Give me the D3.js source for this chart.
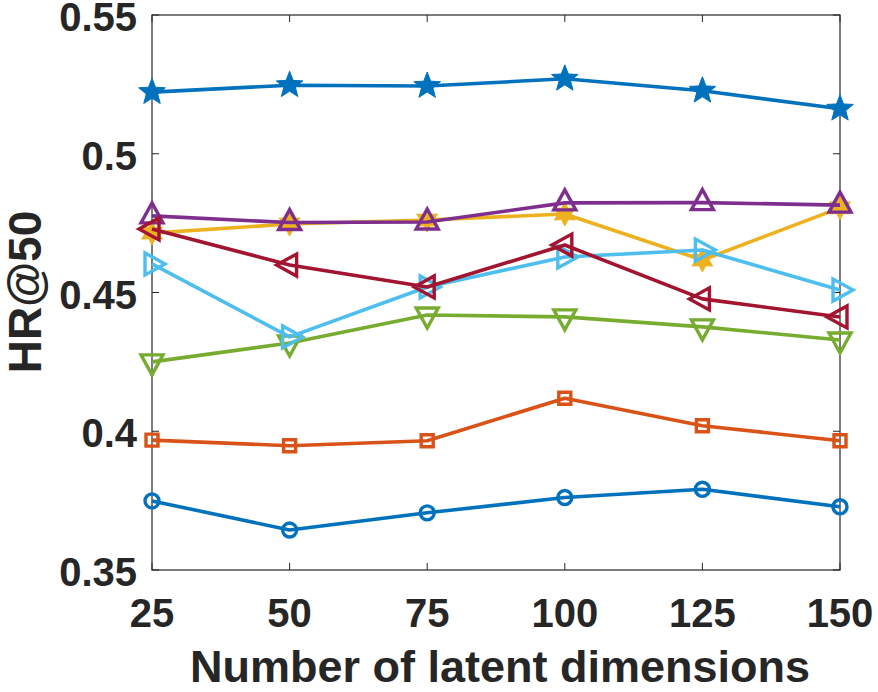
<!DOCTYPE html>
<html>
<head>
<meta charset="utf-8">
<script src="https://cdn.jsdelivr.net/npm/d3@7"></script>
<style>
  body { margin: 0; background: #fff; }
  text { font-family: Arial, "Liberation Sans", Helvetica, sans-serif; font-weight: bold; fill: #262626; }
</style>
</head>
<body>
<script>
'use strict';

const W = 878;
const H = 692;

// latent dimensions
const dims = [25, 50, 75, 100, 125, 150];
const yTicks = [0.35, 0.4, 0.45, 0.5, 0.55];
const yTickLabels = ['0.35', '0.4', '0.45', '0.5', '0.55'];

// HR@50 per method (drawing order = MATLAB plot order)
const sCircle   = [0.3749, 0.3644, 0.3706, 0.3761, 0.3791, 0.3728];
const sSquare   = [0.3968, 0.3948, 0.3966, 0.4119, 0.4020, 0.3966];
const sHexagram = [0.4714, 0.4747, 0.4761, 0.4783, 0.4617, 0.4805];
const sTriUp    = [0.4776, 0.4752, 0.4754, 0.4823, 0.4824, 0.4815];
const sTriDown  = [0.4250, 0.4318, 0.4419, 0.4412, 0.4376, 0.4329];
const sTriRight = [0.4603, 0.4340, 0.4520, 0.4628, 0.4653, 0.4509];
const sTriLeft  = [0.4729, 0.4599, 0.4520, 0.4671, 0.4477, 0.4412];
const sStar     = [0.5222, 0.5247, 0.5244, 0.5270, 0.5227, 0.5162];

const series = [
  { vals: sCircle,   color: '#0072BD', marker: 'circle' },
  { vals: sSquare,   color: '#D95319', marker: 'square' },
  { vals: sHexagram, color: '#EDB120', marker: 'hexagram' },
  { vals: sTriUp,    color: '#7E2F8E', marker: 'up' },
  { vals: sTriDown,  color: '#77AC30', marker: 'down' },
  { vals: sTriRight, color: '#4DBEEE', marker: 'right' },
  { vals: sTriLeft,  color: '#A2142F', marker: 'left' },
  { vals: sStar,     color: '#0072BD', marker: 'star' }
];

const svg = d3.select('body').append('svg').attr('width', W).attr('height', H);

const x = d3.scaleLinear().domain([25, 150]).range([152, 840]);
const y = d3.scaleLinear().domain([0.35, 0.55]).range([570, 15]);

// star-ish polygon path
function starPath(n, ro, ri) {
  const pts = [];
  for (let i = 0; i < 2 * n; i++) {
    const a = -Math.PI / 2 + i * Math.PI / n;
    const r = i % 2 ? ri : ro;
    pts.push([r * Math.cos(a), r * Math.sin(a)]);
  }
  return 'M' + pts.map(p => p.join(',')).join('L') + 'Z';
}

const tri = 'M0,-13L11,7L-11,7Z';
const markerPath = {
  circle: d3.symbol(d3.symbolCircle, Math.PI * 7 * 7)(),
  square: 'M-6,-6H6V6H-6Z',
  hexagram: starPath(6, 12, 6.5),
  star: starPath(5, 14, 6),
  up: tri,
  down: tri,
  right: tri,
  left: tri
};
const markerRot = { up: 0, down: 180, right: 90, left: -90 };
const filled = { star: true, hexagram: true };

// box + ticks
const axisColor = '#262626';
svg.append('rect')
  .attr('x', x(25)).attr('y', y(0.55))
  .attr('width', x(150) - x(25)).attr('height', y(0.35) - y(0.55))
  .attr('fill', 'none').attr('stroke', axisColor).attr('stroke-width', 1.2);

const tl = 7;
svg.selectAll('.ytick')
  .data(yTicks)
  .enter()
  .append('path')
  .attr('d', d => `M${x(25)},${y(d)}h${tl}M${x(150)},${y(d)}h${-tl}`)
  .attr('stroke', axisColor).attr('stroke-width', 1);

svg.selectAll('.xtick')
  .data(dims)
  .enter()
  .append('path')
  .attr('d', d => `M${x(d)},${y(0.35)}v${-tl}M${x(d)},${y(0.55)}v${tl}`)
  .attr('stroke', axisColor).attr('stroke-width', 1);

// tick labels
svg.selectAll('.ylab')
  .data(yTicks)
  .enter()
  .append('text')
  .text((d, i) => yTickLabels[i])
  .attr('x', 137)
  .attr('y', d => y(d) + 16)
  .attr('text-anchor', 'end')
  .attr('font-size', 40);

svg.selectAll('.xlab')
  .data(dims)
  .enter()
  .append('text')
  .text(d => d)
  .attr('x', d => x(d))
  .attr('y', 627)
  .attr('text-anchor', 'middle')
  .attr('font-size', 40);

// lines
const line = d3.line()
  .x((d, i) => x(dims[i]))
  .y(d => y(d));

series.forEach(s => {
  const g = svg.append('g');
  g.append('path')
    .attr('d', line(s.vals))
    .attr('fill', 'none')
    .attr('stroke', s.color)
    .attr('stroke-width', 3.6)
    .attr('stroke-linejoin', 'round');
  g.selectAll('path.m')
    .data(s.vals)
    .enter()
    .append('path')
    .attr('class', 'm')
    .attr('d', markerPath[s.marker])
    .attr('transform', (d, i) => `translate(${x(dims[i])},${y(d)}) rotate(${markerRot[s.marker] || 0})`)
    .attr('fill', filled[s.marker] ? s.color : 'none')
    .attr('stroke', s.color)
    .attr('stroke-width', filled[s.marker] ? 1 : 3.4);
});

// axis titles
svg.append('text')
  .text('Number of latent dimensions')
  .attr('x', 500)
  .attr('y', 682)
  .attr('text-anchor', 'middle')
  .attr('font-size', 45);

svg.append('text')
  .text('HR@50')
  .attr('transform', 'translate(41,292) rotate(-90)')
  .attr('text-anchor', 'middle')
  .attr('font-size', 46);
</script>
</body>
</html>
